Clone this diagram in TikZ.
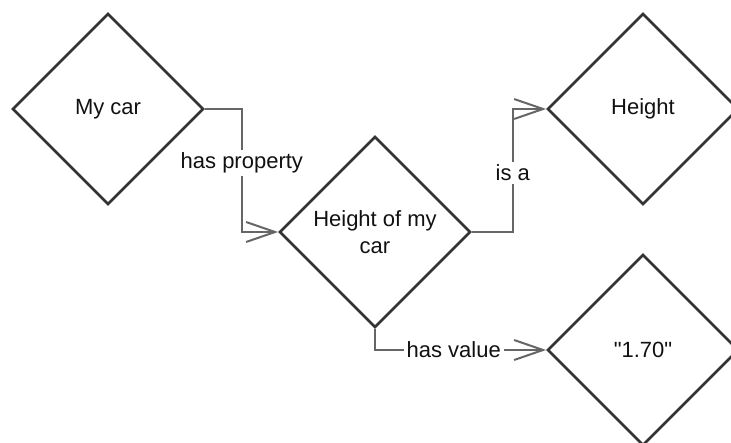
\documentclass[tikz,border=0pt]{standalone}
\usepackage{fontspec}
\setmainfont{Liberation Sans}
\usetikzlibrary{shapes.geometric,arrows.meta}
\definecolor{shapeline}{HTML}{333333}
\definecolor{connline}{HTML}{666666}
\definecolor{txt}{HTML}{111111}
\tikzset{
  concept/.style={shape=diamond, draw=shapeline, line width=2.7pt, minimum width=191pt, minimum height=191pt, inner sep=0pt, align=center, text=txt, font=\fontsize{22}{27}\selectfont},
  conn/.style={draw=connline, line width=2.3pt, -{Straight Barb[length=29pt,width=20pt,line width=2pt]}},
  lbl/.style={fill=white, text=txt, inner sep=3pt, font=\fontsize{22}{27}\selectfont}
}
\begin{document}
\begin{tikzpicture}[x=1pt,y=-1pt]
\useasboundingbox (0,0) rectangle (731,443);
\node[concept] (car) at (108,109) {My car};
\node[concept] (hom) at (375,232) {Height of my\\car};
\node[concept] (hgt) at (643,109) {Height};
\node[concept] (val) at (643,350) {\textquotedbl 1.70\textquotedbl};
\draw[conn] (car.east) -- ++(37,0) |- node[lbl, pos=0.22] {has property} (hom.west);
\draw[conn] (hom.east) -- ++(41,0) |- node[lbl, pos=0.24] {is a} (hgt.west);
\draw[conn] (hom.south) |- node[lbl, pos=0.73] {has value} (val.west);
\end{tikzpicture}
\end{document}
